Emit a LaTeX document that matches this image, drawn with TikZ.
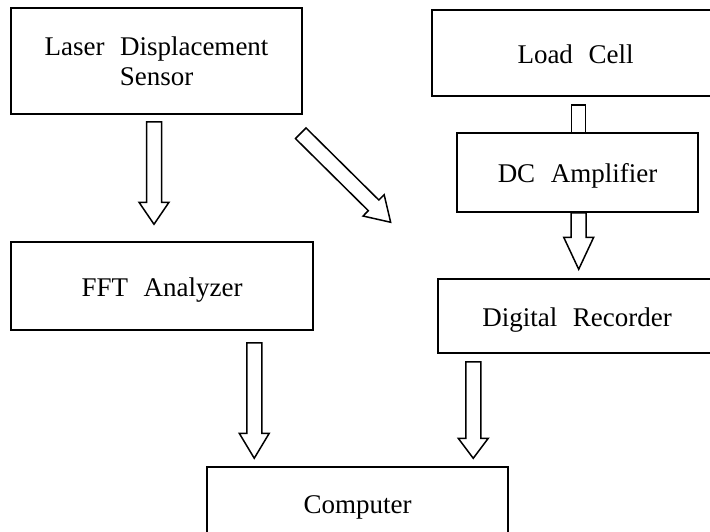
\documentclass[tikz,border=0pt]{standalone}
\usepackage{fontspec}
\setmainfont{Liberation Serif}[WordSpace=2.3]
\usetikzlibrary{positioning, calc}

% hollow block arrow: [head length]{tail}{tip}
\newcommand{\hollowarrow}[3][24pt]{%
    \coordinate (neck) at ($(#3)!#1!(#2)$);
    \draw[flow] ($(#2)!7.5pt!90:(#3)$) -- ($(neck)!7.5pt!90:(#3)$)
        -- ($(neck)!15pt!90:(#3)$) -- (#3) -- ($(neck)!15pt!-90:(#3)$)
        -- ($(neck)!7.5pt!-90:(#3)$) -- ($(#2)!7.5pt!-90:(#3)$) -- cycle;
}

\begin{document}
\begin{tikzpicture}[
    x=1pt, y=-1pt,
    block/.style={draw, line width=1.5pt, fill=white, align=center, inner sep=0pt,
                  font=\fontsize{27}{30}\selectfont},
    oneline/.style={text height=20pt, text depth=0pt},
    flow/.style={draw, line width=1.5pt, fill=white, line join=miter}
]

\useasboundingbox (0,0) rectangle (710,531);
\clip (0,0) rectangle (710,531);

% --- 1. Blocks ---
\node[block, minimum width=291pt, minimum height=106pt] (laser) at (156.5,61) {Laser Displacement\\Sensor};
\node[block, oneline, minimum width=287pt, minimum height=86pt] (load) at (575.5,53) {Load Cell};
\node[block, oneline, minimum width=241pt, minimum height=79pt] (dc) at (577.5,172.5) {DC Amplifier};
\node[block, oneline, minimum width=302pt, minimum height=88pt] (fft) at (162,286) {FFT Analyzer};
\node[block, oneline, minimum width=278pt, minimum height=74pt] (digital) at (577,316) {Digital Recorder};
\node[block, oneline, minimum width=301pt, minimum height=72pt] (computer) at (357.5,503) {Computer};

% --- 2. Connection points ---
\coordinate (l1) at ($(laser.south)+(-2.5,7)$);
\coordinate (l2) at ($(fft.north)+(-8,-17)$);

\coordinate (s1) at ($(laser.south east)+(-2,18.5)$);
\coordinate (s2) at ($(digital.north west)+(-46.6,-56)$);

\coordinate (a1) at ($(dc.south)+(1.2,0)$);
\coordinate (a2) at ($(a1 |- digital.north)+(0,-9)$);

\coordinate (f1) at ($(fft.south east)+(-59.5,12)$);
\coordinate (f2) at ($(f1 |- computer.north)+(0,-8)$);

\coordinate (d1) at ($(digital.south west)+(36,8)$);
\coordinate (d2) at ($(d1 |- computer.north)+(0,-8)$);

% --- 3. Arrows ---
\draw[flow] ($(dc.north)+(-6,0)$) rectangle ($(load.south -| dc.north)+(8,8)$);

\hollowarrow[22pt]{l1}{l2}
\hollowarrow[24pt]{s1}{s2}
\hollowarrow[32pt]{a1}{a2}
\hollowarrow[25pt]{f1}{f2}
\hollowarrow[20pt]{d1}{d2}

\end{tikzpicture}
\end{document}
